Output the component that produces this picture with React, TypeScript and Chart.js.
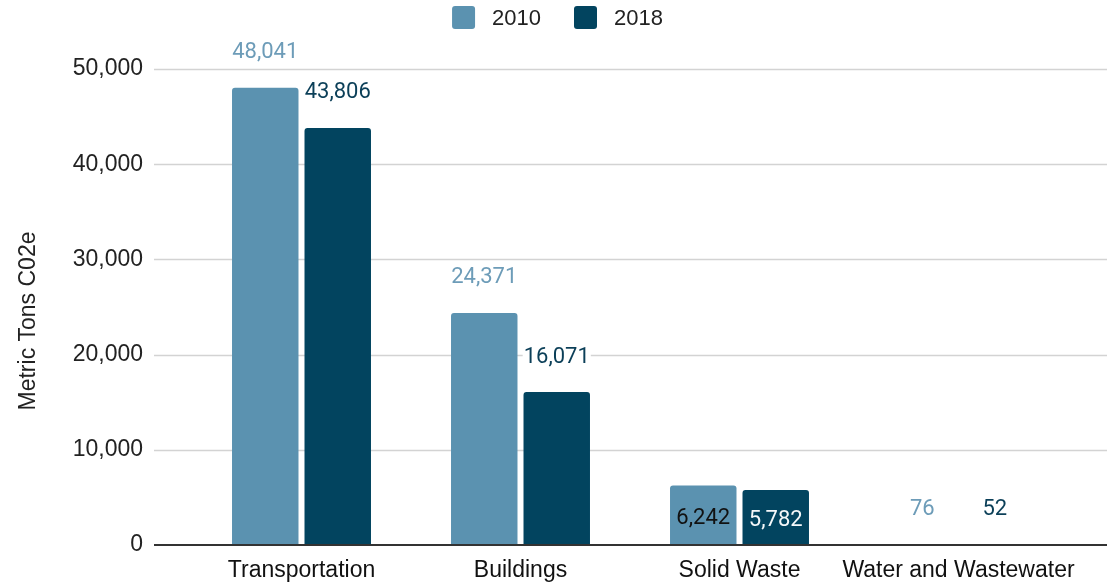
import React, { useEffect, useRef } from "react";
import { Chart, registerables } from "chart.js";

Chart.register(...registerables);

const categories = ["Transportation", "Buildings", "Solid Waste", "Water and Wastewater"];
const seriesNames = ["2010", "2018"];
const values2010 = [48041, 24371, 6242, 76];
const values2018 = [43806, 16071, 5782, 52];
const labelInside2010 = [false, false, true, false];
const labelInside2018 = [false, false, true, false];
const yTicks = [0, 10000, 20000, 30000, 40000, 50000];
const yTitle = "Metric Tons C02e";

const barColors = ["#5b92b0", "#02445f"];
const labelColors = ["#6d9cb8", "#0b3f58"];
const insideLabelColors = ["#111111", "#f4f7f9"];
const ARIAL = "Arial, 'Liberation Sans', sans-serif";
const ROBOTO = "Roboto, Arial, sans-serif";

const fmt = (v: number) => v.toLocaleString("en-US");

const gridPlugin = {
  id: "extGrid",
  beforeDatasetsDraw(chart: any) {
    const { ctx, chartArea, scales } = chart;
    const y = scales.y;
    ctx.save();
    for (const v of yTicks) {
      if (v === 0) continue;
      const py = Math.round(y.getPixelForValue(v)) + 0.5;
      ctx.strokeStyle = "#d3d3d3";
      ctx.lineWidth = 1.6;
      ctx.beginPath();
      ctx.moveTo(chartArea.left - 38, py);
      ctx.lineTo(chartArea.right + 39, py);
      ctx.stroke();
    }
    ctx.restore();
  },
  afterDatasetsDraw(chart: any) {
    const { ctx, chartArea, scales } = chart;
    const py = Math.round(scales.y.getPixelForValue(0));
    ctx.save();
    ctx.strokeStyle = "#333333";
    ctx.lineWidth = 2;
    ctx.beginPath();
    ctx.moveTo(chartArea.left - 38, py);
    ctx.lineTo(chartArea.right + 39, py);
    ctx.stroke();
    ctx.restore();
  },
};

const valueLabelPlugin = {
  id: "valueLabels",
  afterDatasetsDraw(chart: any) {
    const { ctx } = chart;
    const insideFlags = [labelInside2010, labelInside2018];
    ctx.save();
    ctx.font = `22px ${ROBOTO}`;
    ctx.textAlign = "center";
    ctx.textBaseline = "middle";
    chart.data.datasets.forEach((ds: any, di: number) => {
      const meta = chart.getDatasetMeta(di);
      meta.data.forEach((el: any, i: number) => {
        const text = fmt(ds.data[i]);
        const inside = insideFlags[di][i];
        let cy: number;
        if (inside) {
          cy = (el.y + el.base) / 2 + 3;
          ctx.fillStyle = insideLabelColors[di];
        } else {
          cy = el.y - 35;
          const w = ctx.measureText(text).width;
          ctx.fillStyle = "#ffffff";
          ctx.fillRect(el.x - w / 2 - 1, cy - 9, w + 2, 18);
          ctx.fillStyle = labelColors[di];
        }
        ctx.fillText(text, el.x, cy);
      });
    });
    ctx.restore();
  },
};

const legendPlugin = {
  id: "customLegend",
  afterDraw(chart: any) {
    const { ctx, width } = chart;
    ctx.save();
    ctx.font = `22px ${ARIAL}`;
    ctx.textBaseline = "middle";
    ctx.textAlign = "left";
    const box = 23;
    const gap = 17;
    const itemGap = 33;
    const widths = seriesNames.map((s) => ctx.measureText(s).width);
    const total = widths.reduce((a, w) => a + box + gap + w, 0) + itemGap * (seriesNames.length - 1);
    let x = width / 2 + 2 - total / 2;
    const cy = 17.5;
    seriesNames.forEach((s, i) => {
      ctx.fillStyle = barColors[i];
      ctx.beginPath();
      (ctx as any).roundRect(x, cy - box / 2, box, box, 3);
      ctx.fill();
      ctx.fillStyle = "#222222";
      ctx.fillText(s, x + box + gap, cy + 1);
      x += box + gap + widths[i] + itemGap;
    });
    ctx.restore();
  },
};

const yTitlePlugin = {
  id: "yTitle",
  afterDraw(chart: any) {
    const { ctx, chartArea } = chart;
    ctx.save();
    ctx.font = `23px ${ARIAL}`;
    ctx.fillStyle = "#222222";
    ctx.textAlign = "center";
    ctx.textBaseline = "middle";
    ctx.translate(29, (chartArea.top + chartArea.bottom) / 2 + 14);
    ctx.rotate(-Math.PI / 2);
    ctx.fillText(yTitle, 0, 0);
    ctx.restore();
  },
};

export default function App() {
  const canvasRef = useRef<HTMLCanvasElement | null>(null);

  useEffect(() => {
    document.body.style.margin = "0";
    const canvas = canvasRef.current;
    if (!canvas) return;
    const chart = new Chart(canvas, {
      type: "bar",
      data: {
        labels: categories,
        datasets: [
          {
            label: seriesNames[0],
            data: values2010,
            backgroundColor: barColors[0],
            borderRadius: { topLeft: 3, topRight: 3, bottomLeft: 0, bottomRight: 0 },
            borderSkipped: false,
            categoryPercentage: 0.662,
            barPercentage: 0.917,
          },
          {
            label: seriesNames[1],
            data: values2018,
            backgroundColor: barColors[1],
            borderRadius: { topLeft: 3, topRight: 3, bottomLeft: 0, bottomRight: 0 },
            borderSkipped: false,
            categoryPercentage: 0.662,
            barPercentage: 0.917,
          },
        ],
      },
      options: {
        animation: false,
        responsive: false,
        maintainAspectRatio: false,
        devicePixelRatio: 1,
        layout: { padding: { top: 69, right: 43, bottom: 0, left: 0 } },
        plugins: {
          legend: { display: false },
          tooltip: { enabled: false },
          title: { display: false },
        },
        scales: {
          x: {
            grid: { display: false, drawTicks: false, tickLength: 0 },
            border: { display: false },
            ticks: {
              font: { size: 23, family: ARIAL },
              color: "#111111",
              padding: 12,
              maxRotation: 0,
              autoSkip: false,
            },
            afterFit(scale: any) {
              scale.height = 39;
            },
          },
          y: {
            min: 0,
            max: 50000,
            grid: {
              display: true,
              drawOnChartArea: false,
              drawTicks: true,
              tickLength: 42,
              color: "rgba(0,0,0,0)",
            },
            border: { display: false },
            afterBuildTicks(scale: any) {
              scale.ticks = yTicks.map((v) => ({ value: v }));
            },
            ticks: {
              font: { size: 23, family: ARIAL },
              color: "#222222",
              padding: 7,
              callback: (v: any) => fmt(Number(v)),
            },
            afterFit(scale: any) {
              scale.width = 192;
            },
          },
        },
      },
      plugins: [gridPlugin, valueLabelPlugin, legendPlugin, yTitlePlugin],
    });
    return () => chart.destroy();
  }, []);

  return (
    <div style={{ position: "fixed", left: 0, top: 0, width: 1111, height: 584 }}>
      <canvas ref={canvasRef} width={1111} height={584} style={{ display: "block", width: 1111, height: 584 }} />
    </div>
  );
}
